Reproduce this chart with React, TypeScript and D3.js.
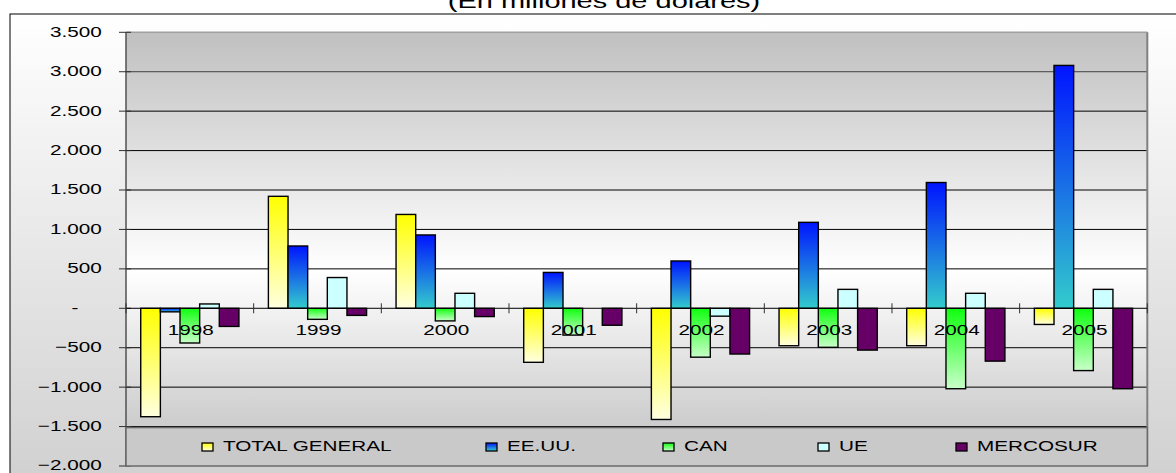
import React from 'react';
import * as d3 from 'd3';

const years = ['1998', '1999', '2000', '2001', '2002', '2003', '2004', '2005'];
const seriesNames = ['TOTAL GENERAL', 'EE.UU.', 'CAN', 'UE', 'MERCOSUR'];
const totalGeneral = [-1375, 1420, 1190, -685, -1410, -475, -475, -205];
const eeuu = [-45, 790, 930, 455, 600, 1090, 1595, 3080];
const can = [-440, -140, -160, -340, -620, -495, -1020, -790];
const ue = [55, 390, 190, 0, -100, 240, 190, 240];
const mercosur = [-230, -90, -105, -215, -580, -530, -670, -1020];
const yTicks = [-2000, -1500, -1000, -500, 0, 500, 1000, 1500, 2000, 2500, 3000, 3500];
const title = '(En millones de dólares)';

const seriesValues = [totalGeneral, eeuu, can, ue, mercosur];
const gradIds = ['gTotal', 'gEEUU', 'gCAN', 'gUE', 'gMerc'];

// layout
const W = 1176;
const H = 473;
const PL = 126;
const PR = 1147.3;
const PT = 32.3;
const PB = 466;
const SX = 1.38;
const FONT = '"Liberation Sans", Arial, sans-serif';
const legendX = [202, 486, 663, 818, 956];

const locale = d3.formatLocale({ decimal: ',', thousands: '.', grouping: [3], currency: ['', ''] });
const fmt = locale.format(',');

export default function App() {
  const x = d3.scaleBand<string>().domain(years).range([PL, PR]).paddingInner(0).paddingOuter(0);
  const xs = d3
    .scaleBand<string>()
    .domain(seriesNames)
    .range([0, x.bandwidth()])
    .paddingInner(0)
    .paddingOuter(0.75);
  const y = d3.scaleLinear().domain([-2000, 3500]).range([PB, PT]);

  const t = (px: number, py: number) => `translate(${px},${py}) scale(${SX},1)`;

  return (
    <svg width={W} height={H} style={{ position: 'absolute', left: 0, top: 0 }} fontFamily={FONT}>
      <defs>
        <linearGradient id="outerBg" x1="0" y1="0" x2="0" y2="1">
          <stop offset="0" stopColor="#ffffff" />
          <stop offset="1" stopColor="#cfcfcf" />
        </linearGradient>
        <linearGradient id="plotBg" x1="0" y1="0" x2="0" y2="1">
          <stop offset="0" stopColor="#c0c0c0" />
          <stop offset="0.55" stopColor="#ffffff" />
          <stop offset="1" stopColor="#bfbfbf" />
        </linearGradient>
        <linearGradient id="gTotal" x1="0" y1="0" x2="0" y2="1">
          <stop offset="0" stopColor="#ffff00" />
          <stop offset="1" stopColor="#ffffe0" />
        </linearGradient>
        <linearGradient id="gEEUU" x1="0" y1="0" x2="0" y2="1">
          <stop offset="0" stopColor="#0014ff" />
          <stop offset="1" stopColor="#33cccc" />
        </linearGradient>
        <linearGradient id="gCAN" x1="0" y1="0" x2="0" y2="1">
          <stop offset="0" stopColor="#10ff10" />
          <stop offset="1" stopColor="#c8ffc8" />
        </linearGradient>
        <linearGradient id="gUE" x1="0" y1="0" x2="0" y2="1">
          <stop offset="0" stopColor="#ccffff" />
          <stop offset="1" stopColor="#ccffff" />
        </linearGradient>
        <linearGradient id="gMerc" x1="0" y1="0" x2="0" y2="1">
          <stop offset="0" stopColor="#660066" />
          <stop offset="1" stopColor="#660066" />
        </linearGradient>
      </defs>

      <rect x={0} y={0} width={W} height={H} fill="#ffffff" />
      <rect x={10} y={14} width={W + 10} height={H + 10} fill="url(#outerBg)" stroke="#000" strokeWidth={1} />

      <text transform={t(604, 8)} textAnchor="middle" fontSize={21} fill="#000">
        {title}
      </text>

      {/* plot area */}
      <rect x={PL} y={PT} width={PR - PL} height={PB - PT} fill="url(#plotBg)" />

      {/* gridlines */}
      {yTicks
        .filter((v) => v !== 0 && v !== -2000 && v !== 3500)
        .map((v) => (
          <line key={'g' + v} x1={PL} x2={PR} y1={y(v)} y2={y(v)} stroke={v >= 3000 ? '#404040' : '#000'} strokeWidth={1} />
        ))}

      {/* plot borders */}
      <line x1={PL} x2={PR} y1={PT} y2={PT} stroke="#a0a0a0" strokeWidth={1.5} />
      <line x1={PR} x2={PR} y1={PT} y2={PB} stroke="#808080" strokeWidth={2} />

      {/* y axis */}
      <line x1={PL} x2={PL} y1={PT} y2={PB} stroke="#505050" strokeWidth={1.5} />
      {yTicks.map((v) => (
        <g key={'yt' + v}>
          <line x1={PL - 7} x2={PL + 5} y1={y(v)} y2={y(v)} stroke="#303030" strokeWidth={1} />
          {v === 0 ? (
            <text transform={t(75, y(v) + 4.4)} textAnchor="middle" fontSize={15} fill="#000">
              -
            </text>
          ) : (
            <text transform={t(101.7, y(v) + 4.4)} textAnchor="end" fontSize={15} fill="#000">
              {fmt(v)}
            </text>
          )}
        </g>
      ))}

      {/* bars */}
      {years.map((yr, i) => (
        <g key={'grp' + yr}>
          {seriesNames.map((s, j) => {
            const v = seriesValues[j][i];
            if (v === 0) return null;
            const x0 = (x(yr) as number) + (xs(s) as number);
            const top = y(Math.max(0, v));
            const bot = y(Math.min(0, v));
            return (
              <rect
                key={s}
                x={x0}
                y={top}
                width={xs.bandwidth()}
                height={bot - top}
                fill={`url(#${gradIds[j]})`}
                stroke="#000"
                strokeWidth={1.4}
              />
            );
          })}
        </g>
      ))}

      {/* zero axis */}
      <line x1={PL} x2={PR} y1={y(0)} y2={y(0)} stroke="#000" strokeWidth={1} />
      {d3.range(years.length + 1).map((k) => {
        const px = PL + k * x.step();
        return <line key={'xt' + k} x1={px} x2={px} y1={y(0) - 5} y2={y(0) + 5} stroke="#303030" strokeWidth={1} />;
      })}

      {/* year labels */}
      {years.map((yr) => (
        <text
          key={'yl' + yr}
          transform={t((x(yr) as number) + x.bandwidth() / 2 + 1, y(0) + 27)}
          textAnchor="middle"
          fontSize={15}
          fill="#000"
        >
          {yr}
        </text>
      ))}

      {/* legend */}
      <rect x={PL} y={y(-1500) + 1} width={PR - PL} height={PB - y(-1500) - 1} fill="#c9c9c9" stroke="#6a6a6a" strokeWidth={1.5} />
      {seriesNames.map((s, j) => (
        <g key={'lg' + s}>
          <rect x={legendX[j]} y={443} width={11} height={8} fill={`url(#${gradIds[j]})`} stroke="#000" strokeWidth={1.3} />
          <text transform={t(legendX[j] + 21, 451)} fontSize={15} fill="#000">
            {s}
          </text>
        </g>
      ))}
    </svg>
  );
}
